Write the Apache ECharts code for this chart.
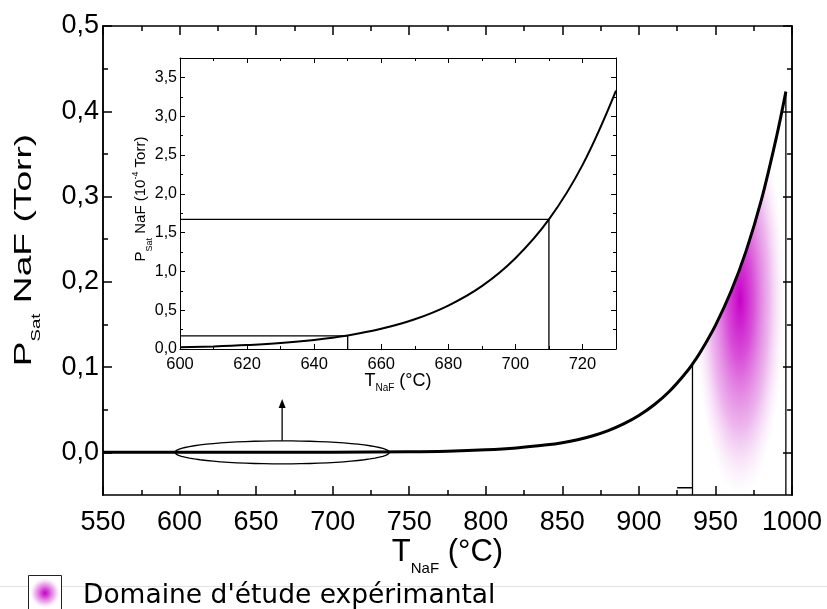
<!DOCTYPE html>
<html><head><meta charset="utf-8">
<script src="https://cdn.jsdelivr.net/npm/echarts@6/dist/echarts.min.js"></script>
<style>html,body{margin:0;padding:0;background:#fff}#c{width:827px;height:609px}</style>
</head><body><div id="c"></div>
<script>
// ---- Data ----
// Main curve: saturation vapour pressure of NaF (Torr) vs temperature (°C)
const mainT = [550, 600, 650, 700, 750, 775, 800, 820, 840, 850, 860, 870, 880, 890, 900, 910, 920, 930, 935, 940, 950, 960, 970, 980, 990, 996];
const mainP = [0.0000002, 0.000002, 0.0000175, 0.000117, 0.00066, 0.0014, 0.0030, 0.0052, 0.0088, 0.0113, 0.0148, 0.0195, 0.0255, 0.0333, 0.0432, 0.0558, 0.0717, 0.0918, 0.1036, 0.117, 0.149, 0.188, 0.236, 0.296, 0.371, 0.423];
// Inset curve: same quantity in 10^-4 Torr, 600-730 °C
const insetT = [600, 610, 620, 630, 640, 650, 660, 670, 680, 690, 700, 710, 720, 730];
const insetP = [0.021, 0.033, 0.051, 0.077, 0.117, 0.175, 0.26, 0.383, 0.56, 0.81, 1.17, 1.67, 2.37, 3.33];
// Tick labels
const mainYLabels = [0, 0.1, 0.2, 0.3, 0.4, 0.5];
const mainYMinor = [0.05, 0.15, 0.25, 0.35, 0.45];
// Reading lines
const mainDropT = [935, 996];
const mainDropP = [0.1036, 0.423];
const mainStubT = [925, 935];
const mainStubP = [-0.0415, -0.0415];
const insetDropT = [650, 710];
const insetDropP = [0.17, 1.67];
// Annotations (data units)
const zoomCenter = [667, 0];
const zoomRadius = [70, 0.0135];
const arrowTopP = 0.0625;
const domainCenter = [966, 0.179];
const domainRadius = [29, 0.229];
const legendText = "Domaine d'étude expérimantal";
const mainYTitle = '{m|P}{s|Sat}{m| NaF (Torr)}';
const insetYTitle = '{m|P}{s|Sat}{m| NaF (10}{p|-4}{m| Torr)}';
const xTitle = '{m|T}{s|NaF}{m| (°C)}';

const FONT = '"Liberation Sans", Arial, sans-serif';
const BLACK = '#000';
const fmt = v => (Math.round(v * 100) / 100).toFixed(1).replace('.', ',');

function baseAxis(extra) {
  return Object.assign({
    type: 'value', z: 6,
    splitLine: {show: false},
    axisLine: {show: true, onZero: false, lineStyle: {color: BLACK, width: 1.5}},
    axisTick: {show: true, inside: true, length: 9, lineStyle: {color: BLACK, width: 1.5}},
    axisLabel: {color: BLACK, fontFamily: FONT},
    nameMoveOverlap: false
  }, extra);
}

const chart = echarts.init(document.getElementById('c'), null, {renderer: 'canvas'});

const xAxes = [
  baseAxis({gridIndex: 0, position: 'bottom', min: 550, max: 1000, interval: 50,
    minorTick: {show: true, splitNumber: 2, length: 5, lineStyle: {color: BLACK, width: 1.5}},
    axisLabel: {color: BLACK, fontFamily: FONT, fontSize: 27, margin: 14, formatter: v => String(v)},
    name: xTitle, nameLocation: 'middle', nameGap: 40,
    nameTextStyle: {color: BLACK, fontFamily: FONT, rich: {
      m: {fontSize: 31, lineHeight: 34, fontFamily: FONT, color: BLACK},
      s: {fontSize: 15, lineHeight: 15, fontFamily: FONT, color: BLACK, padding: [34, 0, 0, 0]}}}}),
  baseAxis({gridIndex: 0, position: 'top', min: 550, max: 1000, interval: 50,
    minorTick: {show: true, splitNumber: 2, length: 5, lineStyle: {color: BLACK, width: 1.5}},
    axisLabel: {show: false}}),
  baseAxis({gridIndex: 1, position: 'bottom', min: 600, max: 730, interval: 20,
    axisLine: {show: true, onZero: false, lineStyle: {color: BLACK, width: 1}},
    axisTick: {show: true, inside: true, length: 5, lineStyle: {color: BLACK, width: 1}},
    minorTick: {show: true, splitNumber: 2, length: 3, lineStyle: {color: BLACK, width: 1}},
    axisLabel: {color: BLACK, fontFamily: FONT, fontSize: 16.5, margin: 7, showMaxLabel: false, formatter: v => String(v)},
    name: xTitle, nameLocation: 'middle', nameGap: 22,
    nameTextStyle: {color: BLACK, fontFamily: FONT, rich: {
      m: {fontSize: 18, lineHeight: 20, fontFamily: FONT, color: BLACK},
      s: {fontSize: 10, lineHeight: 10, fontFamily: FONT, color: BLACK, padding: [14, 0, 0, 0]}}}}),
  baseAxis({gridIndex: 1, position: 'top', min: 600, max: 730, interval: 20,
    axisLine: {show: true, onZero: false, lineStyle: {color: BLACK, width: 1}},
    axisTick: {show: true, inside: true, length: 5, lineStyle: {color: BLACK, width: 1}},
    minorTick: {show: true, splitNumber: 2, length: 3, lineStyle: {color: BLACK, width: 1}},
    axisLabel: {show: false}})
];

const yAxes = [
  baseAxis({gridIndex: 0, position: 'left', min: -0.05, max: 0.5, interval: 0.05,
    axisTick: {show: true, inside: true, length: 9, customValues: mainYLabels, lineStyle: {color: BLACK, width: 1.5}},
    axisLabel: {color: BLACK, fontFamily: FONT, fontSize: 27, margin: 4, customValues: mainYLabels, formatter: fmt}}),
  baseAxis({gridIndex: 0, position: 'left', min: -0.05, max: 0.5, interval: 0.05,
    axisTick: {show: true, inside: true, length: 5, customValues: mainYMinor, lineStyle: {color: BLACK, width: 1.5}},
    axisLabel: {show: false}}),
  baseAxis({gridIndex: 0, position: 'right', min: -0.05, max: 0.5, interval: 0.05,
    axisTick: {show: true, inside: true, length: 9, customValues: mainYLabels, lineStyle: {color: BLACK, width: 1.5}},
    axisLabel: {show: false}}),
  baseAxis({gridIndex: 0, position: 'right', min: -0.05, max: 0.5, interval: 0.05,
    axisTick: {show: true, inside: true, length: 5, customValues: mainYMinor, lineStyle: {color: BLACK, width: 1.5}},
    axisLabel: {show: false}}),
  baseAxis({gridIndex: 1, position: 'left', min: 0, max: 3.75, interval: 0.5,
    axisLine: {show: true, onZero: false, lineStyle: {color: BLACK, width: 1}},
    axisTick: {show: true, inside: true, length: 5, lineStyle: {color: BLACK, width: 1}},
    minorTick: {show: true, splitNumber: 2, length: 3, lineStyle: {color: BLACK, width: 1}},
    axisLabel: {color: BLACK, fontFamily: FONT, fontSize: 16, margin: 3, showMaxLabel: false, formatter: fmt}}),
  baseAxis({gridIndex: 1, position: 'right', min: 0, max: 3.75, interval: 0.5,
    axisLine: {show: true, onZero: false, lineStyle: {color: BLACK, width: 1}},
    axisTick: {show: true, inside: true, length: 5, lineStyle: {color: BLACK, width: 1}},
    minorTick: {show: true, splitNumber: 2, length: 3, lineStyle: {color: BLACK, width: 1}},
    axisLabel: {show: false}})
];

function pairs(xs, ys) { return xs.map((x, i) => [x, ys[i]]); }
function seg(data, xi, yi, w, z) {
  return {type: 'line', xAxisIndex: xi, yAxisIndex: yi, data: data, symbol: 'none', silent: true,
    z: z || 4, lineStyle: {color: BLACK, width: w}, animation: false};
}

const mainData = pairs(mainT, mainP);
const maskData = mainData.filter(d => d[0] >= 930);

const series = [
  {type: 'line', xAxisIndex: 0, yAxisIndex: 0, data: mainData, symbol: 'none', smooth: 0.35,
    z: 5, lineStyle: {color: BLACK, width: 3}, animation: false, silent: true},
  {type: 'line', xAxisIndex: 0, yAxisIndex: 0, data: maskData, symbol: 'none', smooth: 0.35,
    z: 3, lineStyle: {width: 0, color: '#fff'},
    areaStyle: {color: '#fff', opacity: 1, origin: 'end'}, animation: false, silent: true}
];
mainDropT.forEach((t, i) => series.push(seg([[t, mainDropP[i]], [t, -0.05]], 0, 0, 1.3)));
series.push(seg(pairs(mainStubT, mainStubP), 0, 0, 1.3));
series.push({type: 'line', xAxisIndex: 2, yAxisIndex: 4, data: pairs(insetT, insetP), symbol: 'none',
  smooth: 0.4, z: 5, lineStyle: {color: BLACK, width: 2}, animation: false, silent: true});
insetDropT.forEach((t, i) => series.push(seg([[600, insetDropP[i]], [t, insetDropP[i]], [t, 0]], 2, 4, 1.3)));

chart.setOption({
  animation: false,
  backgroundColor: '#fff',
  grid: [
    {left: 103, right: 35, top: 26, bottom: 114, containLabel: false, outerBoundsMode: 'none'},
    {left: 180, right: 211, top: 58, bottom: 260, containLabel: false, outerBoundsMode: 'none'}
  ],
  xAxis: xAxes,
  yAxis: yAxes,
  series: series
});

// ---- Annotations drawn from data-space parameters ----
const toPx = (x, y) => chart.convertToPixel({seriesIndex: 0}, [x, y]);
const c0 = toPx(zoomCenter[0], zoomCenter[1]);
const cx1 = toPx(zoomCenter[0] + zoomRadius[0], zoomCenter[1] + zoomRadius[1]);
const erx = cx1[0] - c0[0], ery = c0[1] - cx1[1];
const ellPts = [];
for (let k = 0; k <= 72; k++) {
  const a = k / 72 * Math.PI * 2;
  ellPts.push([c0[0] + erx * Math.cos(a), c0[1] + ery * Math.sin(a)]);
}
const arrTop = toPx(zoomCenter[0], arrowTopP);

const dc = toPx(domainCenter[0], domainCenter[1]);
const dr = toPx(domainCenter[0] + domainRadius[0], domainCenter[1] + domainRadius[1]);
const drx = dr[0] - dc[0], dry = dc[1] - dr[1];

const blobFill = (yc, r) => ({type: 'radial', x: 0.5, y: yc, r: r, colorStops: [
  {offset: 0, color: 'rgba(200,0,200,1)'},
  {offset: 0.3, color: 'rgba(212,60,212,0.9)'},
  {offset: 0.65, color: 'rgba(225,130,225,0.6)'},
  {offset: 1, color: 'rgba(240,200,240,0)'}]});

const titleRich = (m, s, p) => ({
  m: {fontSize: m, lineHeight: m + 4, fontFamily: FONT, fill: BLACK},
  s: {fontSize: s, lineHeight: s, fontFamily: FONT, fill: BLACK, padding: [Math.round(m * 1.1), 0, 0, 0]},
  p: {fontSize: p, lineHeight: p, fontFamily: FONT, fill: BLACK, padding: [0, 0, Math.round(m * 0.65), 0]}
});

chart.setOption({
  graphic: [
    {type: 'circle', z: 1, silent: true, x: dc[0], y: dc[1], scaleY: dry / drx,
      shape: {cx: 0, cy: 0, r: drx}, style: {fill: blobFill(0.5, 0.5)}},
    {type: 'polyline', z: 8, silent: true, shape: {points: ellPts}, style: {stroke: BLACK, lineWidth: 1.3, fill: null}},
    {type: 'line', z: 8, silent: true, shape: {x1: c0[0], y1: c0[1] - ery, x2: arrTop[0], y2: arrTop[1] + 6},
      style: {stroke: BLACK, lineWidth: 1.3}},
    {type: 'polygon', z: 8, silent: true, shape: {points: [[arrTop[0], arrTop[1]], [arrTop[0] - 3.5, arrTop[1] + 9], [arrTop[0] + 3.5, arrTop[1] + 9]]},
      style: {fill: BLACK}},
    // axis titles (y)
    {type: 'text', z: 8, silent: true, x: 24, y: 250, rotation: Math.PI / 2, scaleX: 1.55,
      style: {text: mainYTitle, fill: BLACK, font: '24px ' + FONT, align: 'center', verticalAlign: 'middle', rich: titleRich(24, 12, 12)}},
    {type: 'text', z: 8, silent: true, x: 141, y: 199, rotation: Math.PI / 2,
      style: {text: insetYTitle, fill: BLACK, font: '15px ' + FONT, align: 'center', verticalAlign: 'middle', rich: titleRich(15, 9, 9)}},
    // legend
    {type: 'line', z: 0, silent: true, shape: {x1: 0, y1: 586.5, x2: 827, y2: 586.5}, style: {stroke: '#e2e2e2', lineWidth: 1}},
    {type: 'rect', z: 1, silent: true, shape: {x: 28.5, y: 575.5, width: 33, height: 40}, style: {fill: '#fff', stroke: '#222', lineWidth: 1}},
    {type: 'circle', z: 2, silent: true, shape: {cx: 45, cy: 593, r: 15}, style: {fill: blobFill(0.5, 0.5)}},
    {type: 'text', z: 2, silent: true, x: 83, y: 596, style: {text: legendText, fill: BLACK,
      font: '26.5px "DejaVu Sans", sans-serif', verticalAlign: 'middle', align: 'left'}}
  ]
});
</script>
</body></html>
